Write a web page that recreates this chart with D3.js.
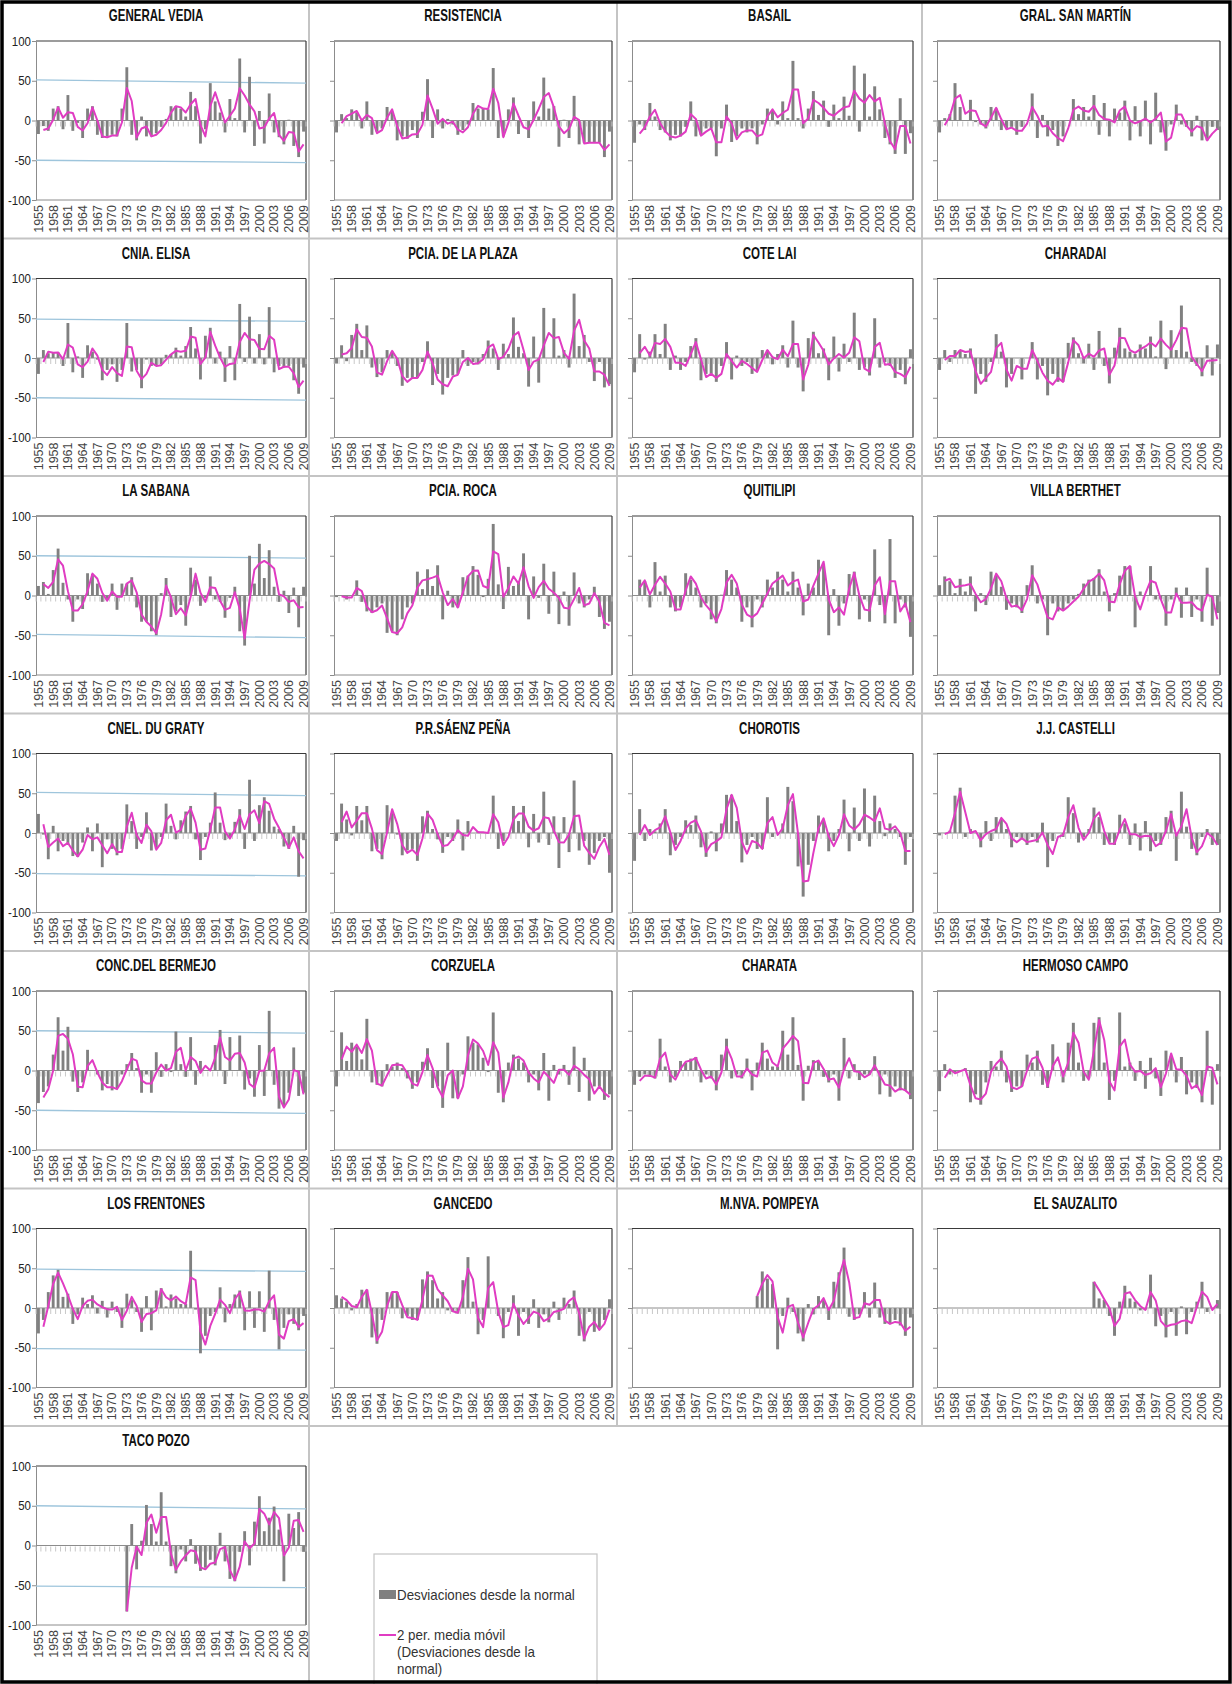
<!DOCTYPE html>
<html>
<head>
<meta charset="utf-8">
<script src="https://cdn.jsdelivr.net/npm/d3@7"></script>
<style>
  body { margin: 0; background: #fff; }
  svg { display: block; }
</style>
</head>
<body>
<svg id="chart"></svg>
<script>
// Rainfall deviations from the normal (%) per station, 1955–2009,
// with a 2-period moving average of the same deviations.

const years = [1955,1956,1957,1958,1959,1960,1961,1962,1963,1964,1965,1966,1967,1968,1969,
  1970,1971,1972,1973,1974,1975,1976,1977,1978,1979,1980,1981,1982,1983,1984,1985,1986,1987,
  1988,1989,1990,1991,1992,1993,1994,1995,1996,1997,1998,1999,2000,2001,2002,2003,2004,2005,
  2006,2007,2008,2009];
const yearTicks = [1955,1958,1961,1964,1967,1970,1973,1976,1979,1982,1985,1988,1991,1994,1997,2000,2003,2006,2009];
const yTicks = [100, 50, 0, -50, -100];
const N = null;

const generalVedia = [-17,-7,-13,15,18,-11,32,-13,-3,-22,15,18,-18,-22,-20,-18,-20,15,67,-18,-25,5,-20,-20,-16,-8,2,18,18,15,5,36,18,-29,-11,47,24,10,-15,27,3,78,-15,55,-32,12,-29,34,-15,-21,-30,1,-32,-46,-14];
const resistencia = [-15,8,3,14,10,-10,24,-18,-14,-10,17,11,-25,-20,-23,-12,-22,11,52,-22,14,-10,2,-5,-18,-12,-5,22,15,15,14,66,-22,-20,14,29,-17,0,-22,24,5,54,15,18,-33,1,-22,31,-30,-28,-28,-28,-28,-46,-14];
const basail = [-28,-5,-12,22,5,-12,-15,-25,-18,-20,-8,24,-20,-18,-10,-10,-45,-10,20,-27,-20,-10,-15,-10,-30,-5,15,13,-5,24,3,75,3,-10,15,37,7,25,-8,20,3,30,6,69,-14,59,5,43,14,-22,-30,-42,28,-42,-16];
const gralSanMartin = [-15,3,8,47,17,0,26,-2,-5,-10,17,15,-12,-10,-8,-18,-8,0,34,-22,7,-20,-12,-32,-20,0,27,8,17,5,32,-18,22,-20,15,10,25,-25,18,-20,25,-30,35,-15,-38,-5,20,-5,-8,-20,6,-25,-25,-8,-12];
const cniaElisa = [-20,10,6,7,7,-10,44,-18,2,-25,16,8,-2,-28,-15,-8,-30,-15,44,-17,-15,-38,-2,-10,-10,-8,4,5,13,3,15,39,12,-27,28,38,-7,8,-30,15,-28,68,-5,52,-7,30,-8,64,-18,-10,-12,-10,-28,-45,-12];
const pciaDeLaPlaza = [-7,16,-4,29,43,10,41,-12,-24,-18,10,8,-10,-35,-25,-25,-25,-5,21,-34,-20,-46,-25,-22,-20,10,-10,-5,-8,5,22,12,-15,18,5,51,14,6,-36,27,-31,63,0,50,3,10,-12,81,15,29,-5,-29,-5,-37,-33];
const coteLai = [-18,30,-2,8,30,5,43,-15,3,-15,-5,15,25,-28,-20,-20,-30,-10,20,-27,3,-10,-5,-20,-15,10,10,-8,5,16,-12,47,-12,-42,25,33,6,12,-28,27,-17,18,-5,57,-15,-12,-22,50,-12,-5,-10,-25,-15,-33,11];
const charadai = [-15,10,-5,10,10,5,12,-45,-20,-30,-5,30,8,-37,-20,0,-27,0,20,-27,-10,-47,-20,-30,-30,19,26,6,-7,18,-15,34,-10,-32,13,38,12,8,5,17,12,27,2,47,-14,35,10,66,8,-5,-10,-23,16,-22,17];
const laSabana = [12,17,2,32,59,16,-5,-33,-5,-17,28,27,15,-8,-5,15,-18,15,15,23,-15,-33,-33,-45,-50,3,22,-27,-20,-12,-38,35,20,-13,-3,24,-5,-8,-28,-3,11,-45,-63,50,15,65,22,57,11,-8,6,-22,10,-40,11];
const pciaRoca = [-2,0,-5,0,19,-8,-20,-22,-15,-10,-47,-45,-50,-30,-15,-10,30,8,33,12,38,-30,6,-15,-15,23,25,37,26,-2,21,90,14,-17,36,12,18,53,-30,24,-3,40,-23,30,-36,5,-38,29,-10,-15,-5,11,-27,-42,-33];
const quitilipi = [0,20,18,-15,42,5,25,-15,-20,-15,28,20,10,-15,-10,-30,-35,1,32,20,10,-33,-15,-40,-5,-15,20,10,30,20,5,30,10,-25,15,10,45,40,-50,8,-38,-10,27,30,-30,-5,-33,58,-12,-35,71,-35,-5,-15,-52];
const villaBerthet = [13,24,18,3,21,5,24,-20,3,-12,30,25,11,-18,-10,-15,-22,13,38,-10,-5,-50,-10,-20,-18,-10,-5,2,15,20,22,33,5,-20,3,25,37,37,-40,5,0,37,-5,-5,-38,-5,10,-28,10,-27,-5,-33,35,-38,-22];
const cnelDuGraty = [24,-2,-33,9,-23,-10,-15,-29,-30,-12,7,-23,12,-43,-8,-20,-28,-20,36,15,-20,-5,26,-22,-20,-5,37,9,-8,16,27,34,-8,-34,-5,13,51,13,-9,-5,14,30,-20,67,-10,35,45,28,8,5,-17,-20,9,-55,-9];
const saenzPena = [-10,37,17,-3,34,16,34,-23,-20,-33,35,25,-2,-28,-22,-20,-35,21,28,5,-8,-25,-5,-10,17,-22,15,0,2,0,0,47,-20,-10,0,34,15,34,-18,24,-12,52,-15,21,-44,20,-24,66,-22,-10,-40,-25,-10,-5,-50];
const chorotis = [-35,30,-10,5,2,12,30,-28,-15,-5,16,10,22,-18,-30,2,-23,12,48,48,15,-37,-15,-5,-20,-20,45,-5,0,12,58,40,-42,-80,-40,-10,22,15,-23,-10,5,42,-23,32,-10,56,-17,47,15,-4,12,5,-5,-40,-5];
const jjCastelli = [-3,0,3,47,57,-5,5,0,-18,15,-10,20,18,5,-18,-5,-8,-15,-5,-12,13,-43,-10,0,-5,45,25,-12,-5,5,32,20,-15,-12,-15,23,12,-15,12,-22,15,-23,-10,-15,20,28,-35,52,8,-20,-28,-5,5,-15,-15];
const concDelBermejo = [-41,-27,-20,20,67,25,55,-14,-27,-15,26,0,-5,-25,-17,-25,-22,-5,8,22,3,-28,-5,-28,23,-8,8,-2,49,8,-8,42,-18,12,0,0,32,51,-17,42,0,44,-24,-10,-33,32,-32,75,-18,-48,-45,-28,29,-32,-28];
const corzuela = [-20,48,12,35,30,14,65,-15,-18,-20,8,5,10,3,-10,-23,-15,11,28,-22,-20,-47,35,-35,-35,-5,43,35,33,16,-2,73,-28,-40,10,20,15,10,-15,-5,-25,22,-38,7,-5,7,-18,30,-27,16,-38,-20,-20,-37,-30];
const charata = [-18,-8,-5,-8,-10,40,5,-15,-8,12,10,15,17,-15,-5,-10,-25,20,40,-10,-5,-10,15,-25,10,35,15,5,5,50,20,67,7,-38,6,13,12,-8,-15,-5,-38,41,-10,8,-12,-5,-5,18,-30,-5,-33,-20,-25,-25,-36];
const hermosoCampo = [-26,8,-5,-2,0,3,-40,-30,-43,-15,12,5,25,-15,-27,-20,-20,20,10,25,-18,-22,33,0,-15,35,60,10,-13,-10,60,67,10,-37,-13,73,5,10,-13,12,-23,16,-10,-32,25,18,-15,17,-30,-15,-22,-40,50,-43,8];
const losFrentones = [-32,-15,20,41,48,14,18,-20,-8,13,5,16,-7,9,-12,8,-5,-25,18,10,-5,-30,15,-28,22,25,2,17,12,5,5,72,-2,-57,-35,-10,-5,26,-18,5,17,22,-28,21,-25,21,-30,47,-15,-52,-25,-8,-20,-28,-10];
const gancedo = [16,12,8,-3,5,23,23,-37,-45,-15,20,20,20,-13,-10,-15,-15,36,46,35,12,20,-3,-5,-7,35,64,8,-33,-15,65,0,-10,-38,-5,16,-35,-5,-20,11,-25,-8,-18,8,-15,13,5,22,-35,-42,-5,-30,-25,-15,11];
const mNvaPompeya = [N,N,N,N,N,N,N,N,N,N,N,N,N,N,N,N,N,N,N,N,N,N,N,N,15,46,37,30,-52,-10,13,-5,-32,-42,5,-8,15,10,-15,33,45,76,-11,-15,-8,20,-12,32,-12,-20,-20,-15,-22,-35,-12];
const elSauzalito = [N,N,N,N,N,N,N,N,N,N,N,N,N,N,N,N,N,N,N,N,N,N,N,N,N,N,N,N,N,N,33,12,10,-10,-35,8,28,12,8,-3,-2,42,-23,-10,-37,-5,-35,2,-33,-5,8,33,-5,0,10];
const tacoPozo = [N,N,N,N,N,N,N,N,N,N,N,N,N,N,N,N,N,N,-83,27,-30,6,51,27,5,67,5,-26,-35,-5,-20,8,-23,-32,-28,-18,-25,16,-20,-42,-45,-8,18,-25,30,62,18,35,49,20,-45,40,22,42,-8];

const stationNames = ["GENERAL VEDIA","RESISTENCIA","BASAIL","GRAL. SAN MARTÍN",
  "CNIA. ELISA","PCIA. DE LA PLAZA","COTE LAI","CHARADAI",
  "LA SABANA","PCIA. ROCA","QUITILIPI","VILLA BERTHET",
  "CNEL. DU GRATY","P.R.SÁENZ PEÑA","CHOROTIS","J.J. CASTELLI",
  "CONC.DEL BERMEJO","CORZUELA","CHARATA","HERMOSO CAMPO",
  "LOS FRENTONES","GANCEDO","M.NVA. POMPEYA","EL SAUZALITO",
  "TACO POZO"];
const stationValues = [generalVedia, resistencia, basail, gralSanMartin,
  cniaElisa, pciaDeLaPlaza, coteLai, charadai,
  laSabana, pciaRoca, quitilipi, villaBerthet,
  cnelDuGraty, saenzPena, chorotis, jjCastelli,
  concDelBermejo, corzuela, charata, hermosoCampo,
  losFrentones, gancedo, mNvaPompeya, elSauzalito,
  tacoPozo];

// hand-drawn ±50 reference lines on the first-column panels: [left, right] ends
const upperRef = [[51,47],[49,46],[50,47],[51,47],[50,47],[49,46],[50,46]];
const lowerRef = [[-50,-53],[-50,-53],[-49,-53],[-51,-54],[-50,-54],[-51,-53],[-51,-53]];

const legendLabels = ["Desviaciones desde la normal", "2 per. media móvil", "(Desviaciones desde la", "normal)"];

// ---------- layout ----------
const W = 1232, H = 1684;
const colEdges = [3, 309, 617, 922, 1229];
const colPlot = [[36, 306], [334, 612], [632, 913], [937, 1220]];
const rowStep = 237.5;
const rowEdge = r => 1 + r * rowStep;
const plotTopOf = r => 41 + r * rowStep;
const plotH = 159;

const BAR = "#808080";
const MA = "#e03cc2";
const REF = "#9ec5dc";
const sans = "'Liberation Sans',Arial,Helvetica,sans-serif";

const svg = d3.select("#chart").attr("width", W).attr("height", H);
svg.append("rect").attr("width", W).attr("height", H).attr("fill", "#fff");

// condensed text: Arial-metric face squeezed horizontally
function narrowText(sel, x, y, sx) {
  return sel.append("text")
    .attr("transform", `translate(${x},${y}) scale(${sx},1)`)
    .attr("font-family", sans);
}

// cell dividers
const grid = svg.append("g").attr("stroke", "#c4c4c4").attr("stroke-width", 2);
grid.append("line").attr("x1", colEdges[1]).attr("x2", colEdges[1]).attr("y1", 3).attr("y2", H - 3);
[2, 3].forEach(c => grid.append("line").attr("x1", colEdges[c]).attr("x2", colEdges[c])
  .attr("y1", 3).attr("y2", rowEdge(6)));
d3.range(1, 7).forEach(r => grid.append("line").attr("x1", 3).attr("x2", W - 3)
  .attr("y1", rowEdge(r)).attr("y2", rowEdge(r)));

stationNames.forEach((name, k) => {
  const values = stationValues[k];
  const r = Math.floor(k / 4), c = k % 4;
  const [x0, x1] = colPlot[c];
  const top = plotTopOf(r), bottom = top + plotH;

  const x = d3.scaleBand().domain(years).range([x0, x1]).paddingInner(0.42).paddingOuter(0.21);
  const y = d3.scaleLinear().domain([-100, 100]).range([bottom, top]);
  const g = svg.append("g");

  // title
  narrowText(g, (colEdges[c] + colEdges[c + 1]) / 2, top - 20, 0.72)
    .attr("text-anchor", "middle")
    .attr("font-weight", "bold").attr("font-size", 16)
    .attr("fill", "#111")
    .text(name);

  // frame: dark top and right edges, grey bottom
  g.append("line").attr("x1", x0).attr("x2", x1).attr("y1", top).attr("y2", top)
    .attr("stroke", "#3a3a3a").attr("stroke-width", 1.2);
  g.append("line").attr("x1", x1).attr("x2", x1).attr("y1", top).attr("y2", bottom)
    .attr("stroke", "#3a3a3a").attr("stroke-width", 1.2);
  g.append("line").attr("x1", x0).attr("x2", x1).attr("y1", bottom).attr("y2", bottom)
    .attr("stroke", "#8c8c8c").attr("stroke-width", 1);

  // y axis (numbers only on the first column)
  const yAxis = g.append("g").attr("transform", `translate(${x0},0)`)
    .call(d3.axisLeft(y).tickValues(yTicks).tickSize(4).tickSizeOuter(0).tickFormat(""));
  yAxis.select(".domain").attr("stroke", "#8c8c8c");
  yAxis.selectAll(".tick line").attr("stroke", "#8c8c8c");
  if (c === 0) {
    yTicks.forEach(v => {
      narrowText(g, x0 - 5, y(v) + 4.5, 0.85)
        .attr("text-anchor", "end").attr("font-size", 13.5).attr("fill", "#222")
        .text(String(v));
    });
  }

  // x labels, rotated, under the plot
  const xAxis = g.append("g").attr("transform", `translate(0,${bottom})`)
    .call(d3.axisBottom(x).tickValues(yearTicks).tickSize(0));
  xAxis.select(".domain").remove();
  xAxis.selectAll(".tick text")
    .attr("transform", "rotate(-90)")
    .attr("text-anchor", "end")
    .attr("x", -5).attr("y", 0).attr("dy", "0.35em")
    .attr("font-family", sans).attr("font-size", 12.5).attr("fill", "#444");

  // reference lines at about ±50 on the first column
  if (c === 0) {
    [upperRef[r], lowerRef[r]].forEach(([a, b]) => {
      g.append("line").attr("x1", x0).attr("x2", x1)
        .attr("y1", y(a)).attr("y2", y(b))
        .attr("stroke", REF).attr("stroke-width", 1.3);
    });
  }

  // bars
  const data = years.map((yr, i) => ({ yr, v: values[i] }));
  g.append("g").selectAll("rect")
    .data(data.filter(d => d.v != null))
    .join("rect")
    .attr("x", d => x(d.yr))
    .attr("width", x.bandwidth())
    .attr("y", d => y(Math.max(0, d.v)))
    .attr("height", d => Math.abs(y(d.v) - y(0)))
    .attr("fill", BAR);

  // category axis through zero with small tick marks between categories
  g.append("line").attr("x1", x0).attr("x2", x1).attr("y1", y(0)).attr("y2", y(0))
    .attr("stroke", "#8c8c8c").attr("stroke-width", 1);
  const half = x.step() * x.paddingInner() / 2;
  const tickPos = years.map(yr => x(yr) - half).concat([x(years[years.length - 1]) + x.bandwidth() + half]);
  g.append("g").selectAll("line").data(tickPos).join("line")
    .attr("x1", d => d).attr("x2", d => d)
    .attr("y1", y(0) + 1).attr("y2", y(0) + 6)
    .attr("stroke", "#c8c8c8").attr("stroke-width", 1);

  // 2-period moving average of the deviations
  const ma = data.map((d, i) => ({
    yr: d.yr,
    m: (i === 0 || d.v == null) ? null : d3.mean([values[i - 1], d.v])
  }));
  g.append("path")
    .datum(ma)
    .attr("fill", "none")
    .attr("stroke", MA)
    .attr("stroke-width", 2)
    .attr("stroke-linejoin", "round")
    .attr("d", d3.line().defined(d => d.m != null)
      .x(d => x(d.yr) + x.bandwidth() / 2)
      .y(d => y(d.m)));
});

// legend
const lg = svg.append("g");
lg.append("rect").attr("x", 374).attr("y", 1554).attr("width", 223).attr("height", 150)
  .attr("fill", "#fff").attr("stroke", "#c4c4c4").attr("stroke-width", 1.2);
lg.append("rect").attr("x", 379).attr("y", 1590).attr("width", 17).attr("height", 9).attr("fill", BAR);
lg.append("line").attr("x1", 379).attr("x2", 396).attr("y1", 1635).attr("y2", 1635)
  .attr("stroke", MA).attr("stroke-width", 2);
const legendY = [1600, 1640, 1657, 1674];
legendLabels.forEach((t, i) => {
  narrowText(lg, 397, legendY[i], 0.92)
    .attr("font-size", 14.5).attr("fill", "#333")
    .text(t);
});

// outer frame
svg.append("rect").attr("x", 2).attr("y", 2).attr("width", W - 4).attr("height", H - 4)
  .attr("fill", "none").attr("stroke", "#000").attr("stroke-width", 3.5);
</script>
</body>
</html>
